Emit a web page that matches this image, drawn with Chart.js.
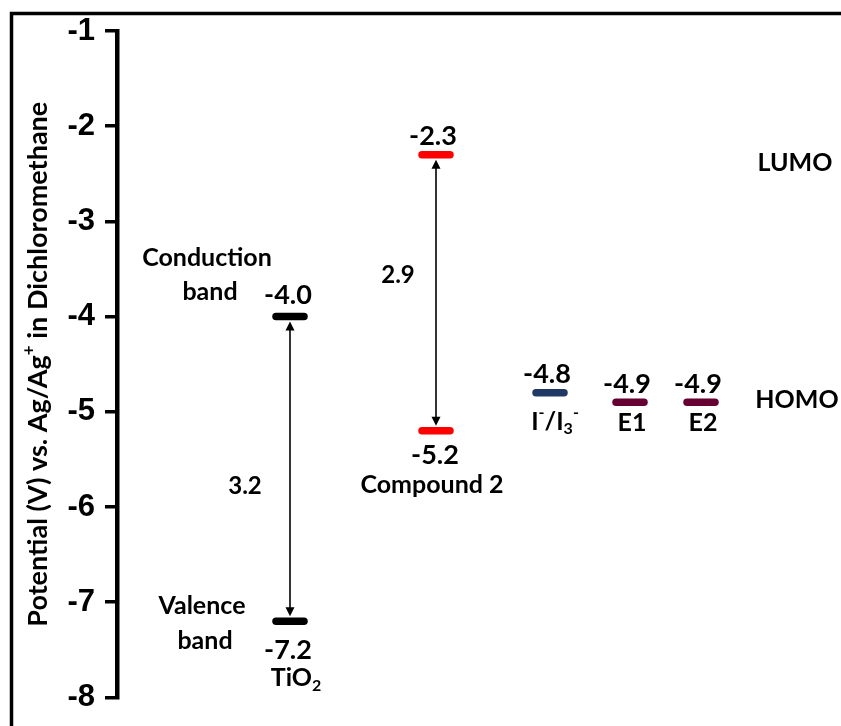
<!DOCTYPE html>
<html lang="en">
<head>
<meta charset="UTF-8">
<title>Energy level diagram</title>
<script src="https://cdn.jsdelivr.net/npm/chart.js"></script>
<style>
  html, body { margin: 0; padding: 0; background: #fff; }
  canvas { display: block; }
</style>
</head>
<body>
<canvas id="levels" width="841" height="726"></canvas>
<script>
// potentials in V vs. Ag/Ag+ (dichloromethane)
const species = ['TiO2', 'Compound 2', 'I-/I3-', 'E1', 'E2'];
const upperLevel = [-4.0, -2.3, null, null, null];   // conduction band / LUMO
const lowerLevel = [-7.2, -5.2, -4.8, -4.9, -4.9];   // valence band / HOMO
const yTicks = [-1, -2, -3, -4, -5, -6, -7, -8];

// column layout (px right of the axis) and colours
const columnX = [173, 319, 433, 513, 584];
const columnColor = ['#000000', '#ff0000', '#1f3864', '#660033', '#660033'];
const halfBar = 14;

const TEXT_FONT = 'Lato, "Open Sans", sans-serif';
const NAME_SIZE = 25;
const VALUE_SIZE = 27;

function levelDataset(i, v) {
  return {
    label: species[i],
    data: [{ x: columnX[i] - halfBar, y: v }, { x: columnX[i] + halfBar, y: v }],
    borderColor: columnColor[i],
    borderWidth: 7.5,
    borderCapStyle: 'round',
    pointRadius: 0,
    fill: false
  };
}

const datasets = [];
species.forEach((s, i) => {
  if (upperLevel[i] !== null) datasets.push(levelDataset(i, upperLevel[i]));
  if (lowerLevel[i] !== null) datasets.push(levelDataset(i, lowerLevel[i]));
});

// text with optional super/subscript pieces: [[text, 'sup'|'sub'|null], ...]
function richText(ctx, parts, x, y, size, align) {
  const small = Math.round(size * 0.62);
  let total = 0;
  parts.forEach(([t, mode]) => {
    ctx.font = `bold ${mode ? small : size}px ${TEXT_FONT}`;
    total += ctx.measureText(t).width;
  });
  let cx = align === 'center' ? x - total / 2 : (align === 'right' ? x - total : x);
  ctx.textAlign = 'left';
  ctx.textBaseline = 'middle';
  parts.forEach(([t, mode]) => {
    ctx.font = `bold ${mode ? small : size}px ${TEXT_FONT}`;
    let dy = 0;
    if (mode === 'sup') dy = -size * 0.36;
    if (mode === 'sub') dy = size * 0.3;
    ctx.fillText(t, cx, y + dy);
    cx += ctx.measureText(t).width;
  });
}

function arrow(ctx, x, yTop, yBottom) {
  const head = 9, wing = 4.5;
  ctx.strokeStyle = '#000';
  ctx.fillStyle = '#000';
  ctx.lineWidth = 1.6;
  ctx.beginPath();
  ctx.moveTo(x, yTop + head - 1);
  ctx.lineTo(x, yBottom - head + 1);
  ctx.stroke();
  ctx.beginPath();
  ctx.moveTo(x, yTop);
  ctx.lineTo(x - wing, yTop + head);
  ctx.lineTo(x + wing, yTop + head);
  ctx.closePath();
  ctx.fill();
  ctx.beginPath();
  ctx.moveTo(x, yBottom);
  ctx.lineTo(x - wing, yBottom - head);
  ctx.lineTo(x + wing, yBottom - head);
  ctx.closePath();
  ctx.fill();
}

const annotate = {
  id: 'annotate',
  beforeDraw(chart) {
    const ctx = chart.ctx;
    ctx.save();
    ctx.fillStyle = '#fff';
    ctx.fillRect(0, 0, chart.width, chart.height);
    // outer frame, open to the right and bottom
    ctx.strokeStyle = '#000';
    ctx.lineWidth = 3.5;
    ctx.strokeRect(11.5, 13.5, 1000, 1000);
    ctx.restore();
  },
  afterDraw(chart) {
    const { ctx, scales: { x, y } } = chart;
    const px = i => x.getPixelForValue(columnX[i]);
    const fmt = v => v.toFixed(1);
    ctx.save();
    ctx.fillStyle = '#000';

    // gap arrows between the two levels
    const gapOffset = [[-45, 17], [-38, -18]];
    species.forEach((s, i) => {
      if (upperLevel[i] === null) return;
      const yu = y.getPixelForValue(upperLevel[i]);
      const yl = y.getPixelForValue(lowerLevel[i]);
      arrow(ctx, px(i), yu + 5, yl - 5);
      ctx.fillStyle = '#000';
      const [dx, dy] = gapOffset[i];
      richText(ctx, [[fmt(upperLevel[i] - lowerLevel[i]), null]], px(i) + dx, (yu + yl) / 2 + dy, 24, 'center');
    });

    // TiO2
    let cx = px(0);
    let yu = y.getPixelForValue(upperLevel[0]);
    let yl = y.getPixelForValue(lowerLevel[0]);
    richText(ctx, [[fmt(upperLevel[0]), null]], cx - 2, yu - 21, VALUE_SIZE, 'center');
    richText(ctx, [['Conduction', null]], cx - 83, yu - 59, NAME_SIZE, 'center');
    richText(ctx, [['band', null]], cx - 80, yu - 25, NAME_SIZE, 'center');
    richText(ctx, [['Valence', null]], cx - 88, yl - 15, NAME_SIZE, 'center');
    richText(ctx, [['band', null]], cx - 85, yl + 20, NAME_SIZE, 'center');
    richText(ctx, [[fmt(lowerLevel[0]), null]], cx - 2, yl + 29, VALUE_SIZE, 'center');
    richText(ctx, [['TiO', null], ['2', 'sub']], cx + 6, yl + 57, NAME_SIZE, 'center');

    // Compound 2
    cx = px(1);
    yu = y.getPixelForValue(upperLevel[1]);
    yl = y.getPixelForValue(lowerLevel[1]);
    richText(ctx, [[fmt(upperLevel[1]), null]], cx - 3, yu - 18, VALUE_SIZE, 'center');
    richText(ctx, [[fmt(lowerLevel[1]), null]], cx - 1, yl + 24, VALUE_SIZE, 'center');
    richText(ctx, [['Compound 2', null]], cx - 4, yl + 54, NAME_SIZE, 'center');

    // redox couple and dyes
    const names = [null, null, [['I', null], ['-', 'sup'], ['/I', null], ['3', 'sub'], ['-', 'sup']], [['E1', null]], [['E2', null]]];
    const nameDy = [0, 0, 29, 21, 21];
    for (let i = 2; i < species.length; i++) {
      cx = px(i);
      yl = y.getPixelForValue(lowerLevel[i]);
      richText(ctx, [[fmt(lowerLevel[i]), null]], cx - 3, yl - 18, VALUE_SIZE, 'center');
      richText(ctx, names[i], cx + (i === 2 ? 5 : 2), yl + nameDy[i], NAME_SIZE, 'center');
    }

    // row captions
    richText(ctx, [['LUMO', null]], 795, y.getPixelForValue(upperLevel[1]) + 8, NAME_SIZE, 'center');
    richText(ctx, [['HOMO', null]], 797, y.getPixelForValue(lowerLevel[3]) - 2, NAME_SIZE, 'center');

    // y axis title with superscript
    ctx.translate(38, (y.top + y.bottom) / 2);
    ctx.rotate(-Math.PI / 2);
    richText(ctx, [['Potential (V) vs. Ag/Ag', null], ['+', 'sup'], [' in Dichloromethane', null]], 0, 0, 27, 'center');
    ctx.restore();
  }
};

new Chart(document.getElementById('levels'), {
  type: 'line',
  data: { datasets },
  options: {
    responsive: false,
    animation: false,
    layout: { padding: { top: 31, bottom: 26, left: 0, right: 0 } },
    plugins: { legend: { display: false }, tooltip: { enabled: false } },
    scales: {
      x: { type: 'linear', min: 0, max: 724, display: false },
      y: {
        type: 'linear',
        min: -8,
        max: -1,
        afterBuildTicks: scale => { scale.ticks = yTicks.map(v => ({ value: v })); },
        afterFit: scale => { scale.width = 117; },
        ticks: {
          color: '#000',
          padding: 10,
          font: { family: '"Liberation Sans", Arial, sans-serif', size: 31, weight: 'bold' }
        },
        grid: { drawOnChartArea: false, drawTicks: true, tickLength: 12, lineWidth: 3.5, color: '#000' },
        border: { display: true, width: 4.5, color: '#000' },
        title: { display: false }
      }
    }
  },
  plugins: [annotate]
});
</script>
</body>
</html>
